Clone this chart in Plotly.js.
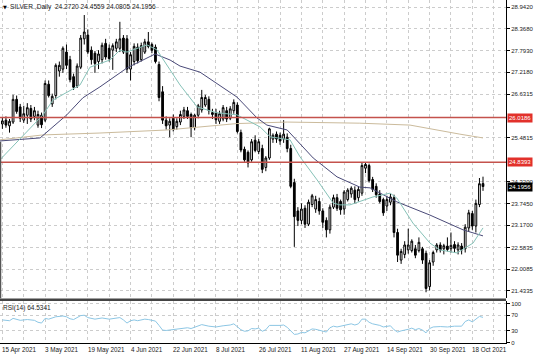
<!DOCTYPE html>
<html><head><meta charset="utf-8">
<script src="https://cdn.plot.ly/plotly-3.0.1.min.js"></script>
<style>html,body{margin:0;padding:0;background:#fff;} #chart{width:536px;height:357px;}</style>
</head><body><div id="chart"></div>
<script>
// ---- data ----
const open = [25.85,25.95,25.80,25.90,26.50,26.30,25.95,26.08,26.26,26.05,
25.82,26.08,25.95,26.90,26.38,26.60,27.25,27.30,27.75,27.55,
27.10,26.85,27.35,28.10,28.20,27.80,27.72,27.50,27.55,27.98,
27.85,27.80,27.85,27.85,28.12,28.10,27.30,27.50,27.88,27.55,
27.75,28.02,27.95,27.88,27.42,26.70,25.95,25.82,26.00,25.78,
25.90,26.05,26.20,26.10,25.75,26.08,26.22,26.35,26.50,26.10,
26.15,25.92,25.98,26.20,26.00,26.20,26.35,25.62,25.18,25.10,
24.90,25.42,25.12,25.20,24.70,24.95,25.45,25.58,25.55,25.45,
25.50,25.20,24.30,23.55,23.30,23.62,23.20,23.72,23.60,23.80,
23.55,23.30,23.05,23.65,23.90,23.80,23.60,23.85,24.00,24.10,
23.90,24.02,24.68,24.75,24.38,24.20,24.00,23.85,23.68,23.78,
23.90,22.98,22.25,22.40,22.52,22.50,22.55,22.50,22.55,22.43,
21.55,22.20,22.52,22.65,22.55,22.62,22.55,22.66,22.52,22.62,
22.55,23.10,23.48,23.15,23.72,24.2720];
const high = [26.02,26.05,25.98,26.62,26.60,26.38,26.33,26.40,26.35,26.30,
26.20,26.15,27.00,27.00,26.65,27.45,27.50,27.90,27.95,27.65,
27.18,27.45,28.20,28.73,28.35,27.90,27.78,27.80,28.00,28.10,
27.95,27.98,28.10,28.55,28.20,28.20,27.75,27.98,27.98,28.00,
28.10,28.28,28.00,27.95,27.50,26.85,26.05,26.00,26.10,26.00,
26.20,26.30,26.30,26.15,26.12,26.38,26.75,26.62,26.58,26.25,
26.25,26.20,26.35,26.30,26.32,26.50,26.42,25.70,25.25,25.15,
25.45,25.55,25.45,25.30,25.00,25.75,25.60,25.65,25.62,25.95,
25.60,25.30,24.40,23.65,23.75,23.70,23.85,24.00,23.95,23.90,
23.62,23.38,23.72,23.98,24.00,23.85,24.10,24.15,24.20,24.20,
24.20,24.84,24.83,24.80,24.45,24.28,24.10,23.90,23.95,24.00,
23.98,23.08,22.55,22.75,23.08,22.80,22.65,22.85,22.60,22.50,
22.25,22.50,22.70,22.72,22.68,22.85,22.98,22.75,22.72,22.70,
23.20,23.58,23.55,23.85,24.42,24.4559];
const low = [25.72,25.75,25.62,25.85,26.12,25.90,25.88,25.85,25.90,25.95,
25.75,25.74,25.90,26.55,26.30,26.50,27.10,27.20,27.30,26.95,
26.75,26.80,27.30,27.95,27.70,27.42,27.20,27.30,27.45,27.55,
27.50,27.28,27.75,27.75,27.70,27.20,27.00,27.40,27.45,27.50,
27.70,27.85,27.72,27.45,26.45,25.85,25.70,25.50,25.65,25.70,
25.82,25.98,25.98,25.50,25.68,26.00,26.15,26.30,26.10,25.98,
25.85,25.85,25.92,25.90,25.95,26.12,25.60,25.10,24.85,24.70,
24.85,25.10,25.05,24.55,24.60,24.90,25.35,25.35,25.30,25.35,
25.10,24.15,22.60,23.15,23.20,23.10,23.15,23.65,23.50,23.45,
23.10,22.85,22.95,23.60,23.55,23.45,23.45,23.80,23.90,23.75,
23.80,23.95,24.55,24.30,24.05,23.90,23.75,23.42,23.55,23.70,
22.85,22.20,22.15,22.30,22.42,22.45,22.30,22.45,22.15,21.40,
21.45,22.10,22.45,22.45,22.40,22.48,22.45,22.45,22.40,22.40,
22.45,23.00,23.05,22.98,23.65,24.0805];
const close = [25.93,25.82,25.92,26.50,26.18,26.00,26.12,26.28,25.98,26.20,
26.10,25.83,26.92,26.60,26.58,27.40,27.40,27.85,27.40,27.02,
26.82,27.38,28.12,28.28,27.75,27.55,27.45,27.70,27.93,27.62,
27.58,27.92,28.02,28.10,27.75,27.30,27.68,27.90,27.52,27.92,
28.02,27.90,27.80,27.50,26.55,25.95,25.80,25.92,25.70,25.92,
26.10,26.22,26.05,25.75,26.08,26.33,26.55,26.55,26.20,26.15,
25.96,26.12,26.28,25.98,26.25,26.42,25.65,25.16,24.90,24.82,
25.38,25.15,25.38,24.65,24.95,25.72,25.55,25.45,25.40,25.58,
25.20,24.20,23.40,23.30,23.60,23.20,23.78,23.95,23.85,23.55,
23.25,23.05,23.65,23.90,23.62,23.58,24.05,24.10,24.15,23.85,
24.12,24.75,24.78,24.35,24.12,23.98,23.80,23.50,23.85,23.92,
22.98,22.38,22.48,22.65,22.65,22.75,22.38,22.72,22.25,21.50,
22.18,22.45,22.65,22.52,22.63,22.53,22.64,22.56,22.65,22.52,
23.12,23.50,23.15,23.75,24.27,24.1956];

// moving averages (bar index, price)
const fastX = [-0.7,11.4,14.2,18.1,21.8,24.6,30.2,33,35,40.6,43.4,47.1,49.9,54.7,60,65.9,68.7,72.4,75.2,80.8,83.6,88.4,92.9,94.8,97.6,104.1,108.9,110.8,115.3,120.1,122.9,127.7,132.2,135];
const fastY = [24.90,26.09,26.48,26.69,26.88,27.35,27.54,27.80,27.75,27.94,27.81,27.28,26.88,26.30,26.15,26.09,25.95,25.77,25.51,25.43,24.98,24.37,23.76,23.71,23.71,23.92,24.02,23.89,23.23,22.70,22.52,22.44,22.70,23.10];
const slowX = [-0.7,10.6,18.1,22.6,27.4,35,39.5,42.9,47.1,49.9,55.5,65.9,71.5,74.3,80,87.3,94,100.4,103.3,110.8,120.1,129.4,135];
const slowY = [25.40,25.48,26.09,26.54,26.83,27.33,27.54,27.70,27.54,27.38,27.22,26.56,26.01,25.82,25.69,24.95,24.45,24.18,24.16,23.79,23.44,23.05,22.89];
const longX = [-0.7,11.4,27.4,46.2,65.9,80,100.4,114.5,128.5,135];
const longY = [25.43,25.56,25.61,25.69,25.86,25.90,25.87,25.82,25.58,25.48];

// RSI(14)
const rsiX = [0,2,3,4,5,7,9,10,11,12,13,15,17,18,19,20,21,22,23,24,26,28,30,32,33,34,35,36,37,38,40,41,43,44,45,46,48,50,52,53,55,56,58,60,62,64,65,66,67,68,69,70,71,72,73,74,75,78,79,80,81,82,83,84,85,86,87,88,89,90,91,92,93,94,96,98,99,100,101,102,103,104,106,107,109,110,111,112,114,115,116,117,118,119,120,121,123,125,127,129,130,131,132,133,134,135];
const rsiY = [58,56,62,60,57,59,57,52,50,62,60,66,68,66,61,59,63,69,70,64,60,63,60,63,64,58,50,56,58,56,60,59,55,44,32,31,33,36,38,36,42,46,42,40,43,45,48,40,33,29,30,36,35,37,29,33,44,44,45,39,30,21,22,26,25,31,35,34,32,29,27,38,42,40,45,48,45,48,60,60,52,48,44,40,43,33,27,30,34,37,33,36,32,25,36,40,41,40,42,42,54,58,53,59,67,64.5341];

// horizontal levels and labels
const levels = [26.0186, 24.8393];
const lastPrice = 24.1956;
const priceTicks = [28.9420,28.3680,27.7930,27.2180,26.6315,25.4815,24.3200,23.7450,23.1700,22.5835,22.0085,21.4335];
const priceTickText = ["28.9420","28.3680","27.7930","27.2180","26.6315","25.4815","24.3200","23.7450","23.1700","22.5835","22.0085","21.4335"];
const rsiTicks = [0,30,70,100];
const rsiTickText = ["0","30","70","100"];
const dateIdx = [0,12,24,36,48,60,72,84,96,108,120,132];
const dateLabels = ["15 Apr 2021","3 May 2021","19 May 2021","4 Jun 2021","22 Jun 2021","8 Jul 2021","26 Jul 2021","11 Aug 2021","27 Aug 2021","14 Sep 2021","30 Sep 2021","18 Oct 2021"];
const titleText = "SILVER.,Daily\u00a0\u00a024.2720 24.4559 24.0805 24.1956";
const rsiLabel = "RSI(14) 64.5341";

// ---- chart ----
const XR = [-0.67, 141.46];
const barIdx = open.map((_, i) => i);
const gridIdx = []; for (let g = 0; g <= 138; g += 6) gridIdx.push(g);
const FONT = 'Liberation Sans, Arial, sans-serif';
const GRID = '#cccccc';
const RED = '#c4524c';

const traces = [
  {type:'scatter', mode:'lines', x:longX, y:longY, line:{color:'#cbbb9c', width:1}, hoverinfo:'none'},
  {type:'scatter', mode:'lines', x:slowX, y:slowY, line:{color:'#4a4a78', width:1}, hoverinfo:'none'},
  {type:'scatter', mode:'lines', x:fastX, y:fastY, line:{color:'#86c2b8', width:1}, hoverinfo:'none'},
  {type:'candlestick', x:barIdx, open:open, high:high, low:low, close:close,
   increasing:{line:{color:'#000', width:1}, fillcolor:'#ffffff'},
   decreasing:{line:{color:'#000', width:1}, fillcolor:'#000000'},
   whiskerwidth:0, hoverinfo:'none'},
  {type:'scatter', mode:'lines', x:rsiX, y:rsiY, xaxis:'x', yaxis:'y2', line:{color:'#8cc6e4', width:1}, hoverinfo:'none'}
];
// level lines across the full x range
levels.forEach(v => traces.push({type:'scatter', mode:'lines', x:XR, y:[v, v], line:{color:RED, width:1.5}, hoverinfo:'none'}));

const shapes = [];
// panel separator and left frame
shapes.push({type:'line', xref:'paper', x0:0, x1:1, yref:'paper', y0:0.1262, y1:0.1262, line:{color:'#444', width:2.5}});
shapes.push({type:'line', xref:'paper', x0:0.001, x1:0.001, yref:'y', y0:21.237, y1:25.38, line:{color:'#555', width:1.5}});

const annotations = [];
dateIdx.forEach((d, i) => annotations.push({x:d, xref:'x', y:0, yref:'paper', yanchor:'top', xanchor:'left', xshift:-2, yshift:-1,
  text:dateLabels[i], showarrow:false, font:{family:FONT, size:6.3, color:'#1a1a1a'}}));
levels.forEach(v => annotations.push({x:1, xref:'paper', xanchor:'left', xshift:1, y:v, yref:'y', text:v.toFixed(4), showarrow:false,
  bgcolor:'#e2312b', borderpad:1, font:{family:FONT, size:6, color:'#fff'}}));
annotations.push({x:1, xref:'paper', xanchor:'left', xshift:1, y:lastPrice, yref:'y', text:lastPrice.toFixed(4), showarrow:false,
  bgcolor:'#000', borderpad:1, font:{family:FONT, size:6, color:'#fff'}});
annotations.push({x:0, xref:'paper', xanchor:'left', xshift:1, y:1, yref:'paper', yanchor:'top', yshift:-2, text:'▼', showarrow:false,
  font:{family:'DejaVu Sans', size:5, color:'#000'}});
annotations.push({x:0, xref:'paper', xanchor:'left', xshift:8, y:1, yref:'paper', yanchor:'top', yshift:-1, text:titleText, showarrow:false,
  font:{family:FONT, size:6.6, color:'#1a1a1a'}});
annotations.push({x:0, xref:'paper', xanchor:'left', xshift:1, y:1, yref:'y2 domain', yanchor:'top', yshift:-1, text:rsiLabel, showarrow:false,
  font:{family:FONT, size:6.5, color:'#1a1a1a'}});

const layout = {
  width:536, height:357, margin:{l:0, r:30, t:0, b:14},
  paper_bgcolor:'#fff', plot_bgcolor:'#fff', showlegend:false,
  font:{family:FONT, size:6, color:'#1a1a1a'},
  xaxis:{range:XR, anchor:'y2', tickvals:gridIdx, ticktext:gridIdx.map(() => ''), ticks:'',
         showgrid:true, gridcolor:GRID, griddash:'dot', gridwidth:1, showline:true, linecolor:'#000', linewidth:1,
         zeroline:false, rangeslider:{visible:false}, fixedrange:true},
  yaxis:{domain:[0.13,1], range:[21.237,29.127], side:'right', tickvals:priceTicks, ticktext:priceTickText,
         ticks:'outside', ticklen:3, tickcolor:'#000', showgrid:true, gridcolor:GRID, griddash:'dot',
         showline:true, linecolor:'#000', linewidth:1, zeroline:false, tickfont:{family:FONT, size:6, color:'#1a1a1a'}, fixedrange:true},
  yaxis2:{domain:[0,0.122], range:[-1,106], side:'right', anchor:'x', tickvals:rsiTicks, ticktext:rsiTickText,
         ticks:'outside', ticklen:3, tickcolor:'#000', showgrid:true, gridcolor:GRID, griddash:'dot',
         showline:true, linecolor:'#000', linewidth:1, zeroline:false, tickfont:{family:FONT, size:6, color:'#1a1a1a'}, fixedrange:true},
  shapes:shapes, annotations:annotations
};

Plotly.newPlot('chart', traces, layout, {staticPlot:true, displayModeBar:false});
</script></body></html>
